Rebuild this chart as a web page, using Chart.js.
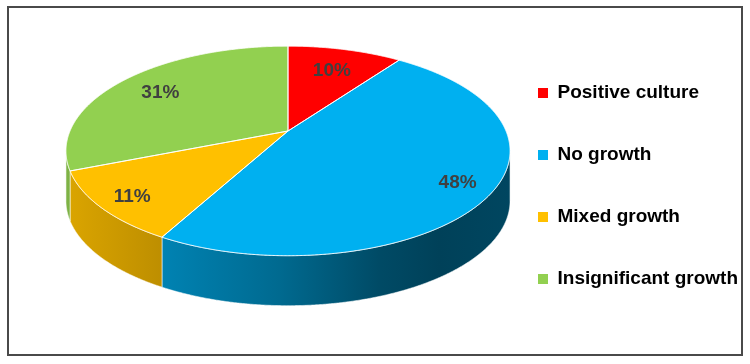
<!DOCTYPE html>
<html>
<head>
<meta charset="utf-8">
<script src="https://cdn.jsdelivr.net/npm/chart.js@4"></script>
<style>
  html,body{margin:0;padding:0;background:#fff;}
  #wrap{position:relative;width:750px;height:364px;}
  #frame{position:absolute;left:7px;top:6px;width:736px;height:350px;box-sizing:border-box;border:2px solid #4a4a4a;pointer-events:none;}
  canvas{position:absolute;left:0;top:0;}
</style>
</head>
<body>
<div id="wrap">
  <canvas id="c" width="750" height="364"></canvas>
  <div id="frame"></div>
</div>
<script>
// ---- data ----
const categories = ['Positive culture', 'No growth', 'Mixed growth', 'Insignificant growth'];
const values = [10, 48, 11, 31];
const sliceColors = ['#FF0000', '#00B0F0', '#FFC000', '#92D050'];

// ---- 3D perspective view settings (style only) ----
const view = { cx: 288, cy: 131, A: 218, B: 101, k: 0.19, depth: 50 };
function proj(u, v) {
  const w = 1 - view.k * v;
  return [view.cx + view.A * u / w, view.cy + view.B * v / w];
}
function hexToRgb(h) {
  const n = parseInt(h.slice(1), 16);
  return [(n >> 16) & 255, (n >> 8) & 255, n & 255];
}
function shade(h, f) {
  const [r, g, b] = hexToRgb(h);
  return 'rgb(' + Math.round(r * f) + ',' + Math.round(g * f) + ',' + Math.round(b * f) + ')';
}
const shadeStops = [[0, 0.86], [0.22, 0.74], [0.48, 0.60], [0.71, 0.42], [0.84, 0.37], [1, 0.40]];

function slicePath(ctx, a, b, step) {
  ctx.beginPath();
  const c = proj(0, 0);
  ctx.moveTo(c[0], c[1]);
  for (let t = a; t < b; t += step) {
    const p = proj(Math.cos(t), Math.sin(t));
    ctx.lineTo(p[0], p[1]);
  }
  const e = proj(Math.cos(b), Math.sin(b));
  ctx.lineTo(e[0], e[1]);
  ctx.closePath();
}

const pie3d = {
  id: 'pie3d',
  beforeDatasetsDraw(chart) {
    const ctx = chart.ctx;
    const arcs = chart.getDatasetMeta(0).data;
    const rx = view.A / Math.sqrt(1 - view.k * view.k);
    const xL = view.cx - rx, xR = view.cx + rx;
    const visA = Math.asin(view.k), visB = Math.PI - Math.asin(view.k);
    const step = 0.005;
    ctx.save();
    ctx.lineJoin = 'round';
    // side walls
    arcs.forEach((arc) => {
      const a = Math.max(arc.startAngle, visA), b = Math.min(arc.endAngle, visB);
      if (b <= a) return;
      const pts = [];
      for (let t = a; t < b; t += step) pts.push(proj(Math.cos(t), Math.sin(t)));
      pts.push(proj(Math.cos(b), Math.sin(b)));
      ctx.beginPath();
      pts.forEach((p, j) => j ? ctx.lineTo(p[0], p[1]) : ctx.moveTo(p[0], p[1]));
      for (let j = pts.length - 1; j >= 0; j--) ctx.lineTo(pts[j][0], pts[j][1] + view.depth);
      ctx.closePath();
      const g = ctx.createLinearGradient(xL, 0, xR, 0);
      shadeStops.forEach(s => g.addColorStop(s[0], shade(arc.options.backgroundColor, s[1])));
      ctx.fillStyle = g;
      ctx.fill();
      ctx.strokeStyle = 'rgba(255,255,255,0.55)';
      ctx.lineWidth = 1;
      ctx.stroke();
    });
    // top faces
    arcs.forEach((arc) => {
      slicePath(ctx, arc.startAngle, arc.endAngle, step);
      ctx.fillStyle = arc.options.backgroundColor;
      ctx.fill();
    });
    arcs.forEach((arc) => {
      slicePath(ctx, arc.startAngle, arc.endAngle, step);
      ctx.strokeStyle = 'rgba(255,255,255,0.85)';
      ctx.lineWidth = 1;
      ctx.stroke();
    });
    // percentage labels
    const total = values.reduce((s, v) => s + v, 0);
    ctx.fillStyle = '#404040';
    ctx.font = 'bold 19px "Liberation Sans", Arial, sans-serif';
    ctx.textAlign = 'center';
    ctx.textBaseline = 'middle';
    arcs.forEach((arc, i) => {
      const m = (arc.startAngle + arc.endAngle) / 2;
      const f = 0.805 + 0.07 * Math.sin(m);
      const p = proj(f * Math.cos(m), f * Math.sin(m));
      ctx.fillText(Math.round(values[i] / total * 100) + '%', p[0], p[1] + 2);
    });
    ctx.restore();
    return false;
  }
};

new Chart(document.getElementById('c'), {
  type: 'pie',
  data: {
    labels: categories,
    datasets: [{ data: values, backgroundColor: sliceColors, borderWidth: 0 }]
  },
  options: {
    responsive: false,
    animation: false,
    devicePixelRatio: 1,
    layout: { padding: { top: 8, right: 2, left: 0, bottom: 0 } },
    plugins: {
      tooltip: { enabled: false },
      legend: {
        position: 'right',
        align: 'center',
        labels: {
          boxWidth: 10,
          boxHeight: 10,
          padding: 43,
          color: '#000',
          font: { family: '"Liberation Sans", Arial, sans-serif', size: 19, weight: 'bold' }
        }
      }
    }
  },
  plugins: [pie3d]
});
</script>
</body>
</html>
